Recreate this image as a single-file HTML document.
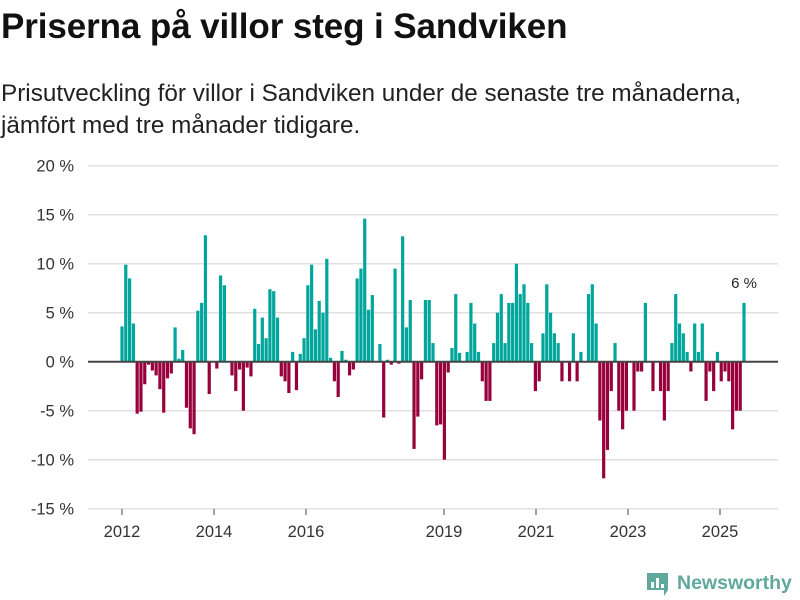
<!DOCTYPE html>
<html><head><meta charset="utf-8"><style>
body{margin:0;width:800px;height:600px;background:#fff;font-family:"Liberation Sans","DejaVu Sans",sans-serif;overflow:hidden;position:relative}
h1{position:absolute;left:1px;top:7px;margin:0;font-size:35px;font-weight:bold;color:#111;letter-spacing:-0.1px}
.sub{position:absolute;left:1px;top:78px;font-size:24.3px;line-height:32px;color:#222;width:799px;white-space:nowrap}
svg{position:absolute;left:0;top:0}
</style></head><body>
<h1>Priserna på villor steg i Sandviken</h1>
<div class="sub">Prisutveckling för villor i Sandviken under de senaste tre månaderna,<br>jämfört med tre månader tidigare.</div>
<svg id="chart" width="800" height="600"></svg>
<script>
const yTicks=[20,15,10,5,0,-5,-10,-15];
const xTickLabels=["2012","2014","2016","2019","2021","2023","2025"];
const xTickYears=[2012,2014,2016,2019,2021,2023,2025];
const startYear=2012;
const values=[3.6,9.9,8.5,3.9,-5.3,-5.1,-2.3,-0.3,-0.9,-1.4,-2.8,-5.2,-1.7,-1.2,3.5,0.3,1.2,-4.7,-6.8,-7.4,5.2,6.0,12.9,-3.3,0,-0.7,8.8,7.8,0,-1.4,-3.0,-0.8,-5.0,
-0.6,-1.5,5.4,1.8,4.5,2.4,7.4,7.2,4.5,-1.5,-2.0,-3.2,1.0,-2.9,0.8,2.4,7.8,9.9,3.3,6.2,5.0,10.5,0.4,-2.0,-3.6,1.1,0.2,-1.4,-0.8,8.5,9.5,14.6,5.3,
6.8,0,1.8,-5.7,0.2,-0.3,9.5,-0.2,12.8,3.5,6.3,-8.9,-5.6,-1.8,6.3,6.3,1.9,-6.5,-6.4,-10.0,-1.1,1.4,6.9,0.9,0,1.0,6.0,3.9,1.0,-2.0,-4.0,-4.0,1.9,
5.0,6.9,1.9,6.0,6.0,10.0,6.9,7.9,6.0,1.9,-3.0,-2.0,2.9,7.9,5.0,2.9,1.9,-2.0,0,-2.0,2.9,-2.0,1.0,0,6.9,7.9,3.9,-6.0,-11.9,-9.0,-3.0,1.9,-5.0,
-6.9,-5.0,0,-5.0,-1.0,-1.0,6.0,0,-3.0,0,-3.0,-6.0,-3.0,1.9,6.9,3.9,2.9,1.0,-1.0,3.9,1.0,3.9,-4.0,-1.0,-3.0,1.0,-2.0,-1.0,-2.0,-6.9,-5.0,-5.0,6.0];
const lastLabel="6 %";
const NS="http://www.w3.org/2000/svg";
const svg=document.getElementById('chart');
const y=v=>361.7-v*9.8;
const xIdx=i=>122+i*(622/(values.length-1));
const xYear=yr=>122+(yr-startYear)*46;
function mk(t,a){const e=document.createElementNS(NS,t);for(const k in a)e.setAttribute(k,a[k]);svg.appendChild(e);return e;}
yTicks.forEach(t=>{
  const g=mk('line',{x1:88,x2:778,y1:y(t),y2:y(t),stroke:'#e0e0e0','stroke-width':1.5});
  
  
  const l=mk('text',{x:74,y:y(t)+6,'text-anchor':'end','font-size':16.5,fill:'#333'});
  l.textContent=t+' %';
  
  
});
values.forEach((v,i)=>{
  const r=mk('rect',{x:xIdx(i)-1.6,width:3.2,y:v>=0?y(v):y(0),height:Math.abs(y(v)-y(0)),fill:v>=0?'#00a59b':'#98003c'});
  
  
});
const z=mk('line',{x1:88,x2:778,y1:y(0),y2:y(0),stroke:'#444','stroke-width':2});


xTickYears.forEach((yr,i)=>{
  const x=xYear(yr);
  const t=mk('line',{x1:x,x2:x,y1:509,y2:515,stroke:'#444','stroke-width':1});
  
  
  const l=mk('text',{x:x,y:537,'text-anchor':'middle','font-size':16.5,fill:'#333'});
  l.textContent=xTickLabels[i];
  
  
});
const li=values.length-1;
const lab=mk('text',{x:xIdx(li),y:y(values[li])-15,'text-anchor':'middle','font-size':15,fill:'#222'});
lab.textContent=lastLabel;


</script>
<div style="position:absolute;left:646px;top:569px;display:flex;align-items:center">
<svg width="23" height="28" style="position:static"><path d="M1 4h21v17l-4 6v-6H1z" fill="#5fa89c"/><rect x="5" y="13" width="3" height="6" fill="#fff"/><rect x="10" y="9" width="3" height="10" fill="#fff"/><rect x="15" y="15" width="3" height="4" fill="#fff"/></svg>
<span style="margin-left:8px;font-size:19.5px;font-weight:bold;color:#5fa89c">Newsworthy</span></div>
</body></html>
